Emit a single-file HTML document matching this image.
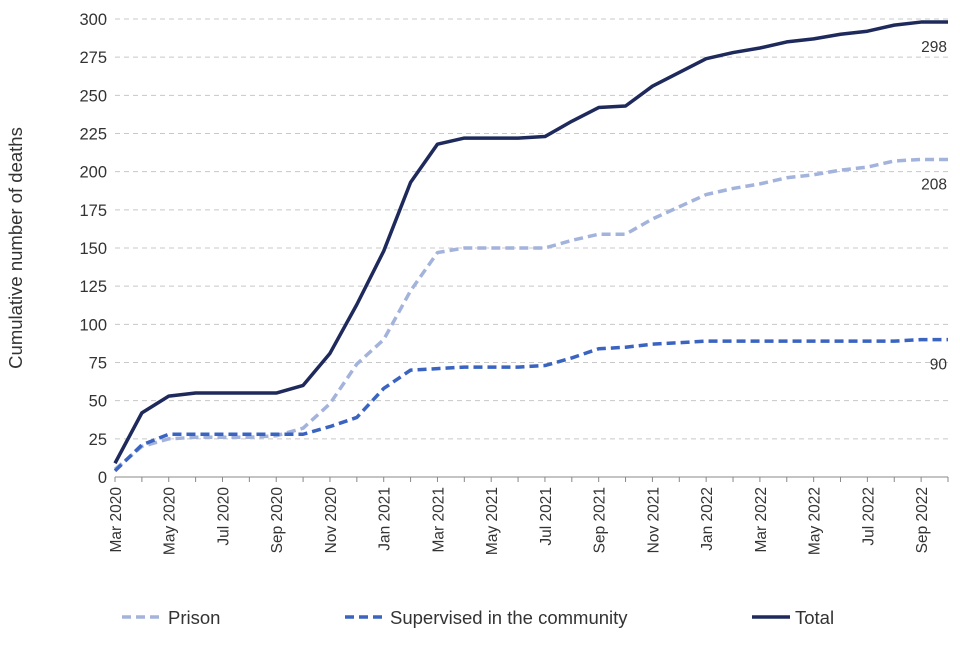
<!DOCTYPE html>
<html><head><meta charset="utf-8"><style>
body{margin:0;background:#fff;}
svg text{font-family:"Liberation Sans",Arial,sans-serif;fill:#333;}
</style></head><body>
<svg id="chart" width="960" height="640" viewBox="0 0 960 640" xmlns="http://www.w3.org/2000/svg">
<g id="grid"></g>
<g id="yaxis"></g>
<g id="xaxis"></g>
<g id="series"></g>
<text transform="translate(22,248) rotate(-90)" text-anchor="middle" font-size="18.5">Cumulative number of deaths</text>
<g>
<g><line x1="122" y1="617" x2="160" y2="617" stroke="#a3b3dc" stroke-width="3.5" stroke-dasharray="9,5"/><text x="168" y="624" font-size="18.5">Prison</text></g>
<g><line x1="345" y1="617" x2="383" y2="617" stroke="#3a64c0" stroke-width="3.5" stroke-dasharray="9,5"/><text x="390" y="624" font-size="18.5">Supervised in the community</text></g>
<g><line x1="752" y1="617" x2="790" y2="617" stroke="#1f2a5c" stroke-width="3.5"/><text x="795" y="624" font-size="18.5">Total</text></g>
</g>
</svg>
<script>
const months = ["Mar 2020","Apr 2020","May 2020","Jun 2020","Jul 2020","Aug 2020","Sep 2020","Oct 2020","Nov 2020","Dec 2020","Jan 2021","Feb 2021","Mar 2021","Apr 2021","May 2021","Jun 2021","Jul 2021","Aug 2021","Sep 2021","Oct 2021","Nov 2021","Dec 2021","Jan 2022","Feb 2022","Mar 2022","Apr 2022","May 2022","Jun 2022","Jul 2022","Aug 2022","Sep 2022","Oct 2022"];
const totalValues = [9,42,53,55,55,55,55,60,81,113,148,193,218,222,222,222,223,233,242,243,256,265,274,278,281,285,287,290,292,296,298,298];
const prisonValues = [5,20,25,26,26,26,27,32,48,74,90,122,147,150,150,150,150,155,159,159,169,177,185,189,192,196,198,201,203,207,208,208];
const communityValues = [4,21,28,28,28,28,28,28,33,39,58,70,71,72,72,72,73,78,84,85,87,88,89,89,89,89,89,89,89,89,90,90];
const yTicks = [0,25,50,75,100,125,150,175,200,225,250,275,300];
const xLabelIdx = [0,2,4,6,8,10,12,14,16,18,20,22,24,26,28,30];

const X0=115, X1=948, Y0=477, Y1=19;
const x = i => X0 + i*(X1-X0)/(months.length-1);
const y = v => Y0 - v*(Y0-Y1)/300;
const NS="http://www.w3.org/2000/svg";
function mk(tag, attrs, parent){const e=document.createElementNS(NS,tag);for(const k in attrs)e.setAttribute(k,attrs[k]);parent.appendChild(e);return e;}
const grid=document.getElementById('grid'), ya=document.getElementById('yaxis'), xa=document.getElementById('xaxis'), ser=document.getElementById('series');
yTicks.forEach(t=>{
  if(t>0){const l=mk('line',{x1:X0,x2:X1,y1:y(t),y2:y(t),stroke:'#c8c8c8','stroke-dasharray':'5,4','stroke-width':1},grid);
  
  }
  const tx=mk('text',{x:X0-8,y:y(t)+6,'text-anchor':'end','font-size':16.5},ya);tx.textContent=t;
  
  
});
const ax=mk('line',{x1:X0,x2:X1,y1:Y0,y2:Y0,stroke:'#888','stroke-width':1},xa);


months.forEach((m,i)=>{const tk=mk('line',{x1:x(i),x2:x(i),y1:Y0,y2:Y0+5,stroke:'#888'},xa);
  
  });
xLabelIdx.forEach(i=>{const tx=mk('text',{transform:`translate(${x(i)+6},${Y0+10}) rotate(-90)`,'text-anchor':'end','font-size':15.5},xa);
  tx.textContent=months[i];
  
  });
function line(vals,color,dash,name){
  const p=mk('polyline',{points:vals.map((v,i)=>x(i)+','+y(v)).join(' '),fill:'none',stroke:color,'stroke-width':3.5,'stroke-linejoin':'round'},ser);
  if(dash)p.setAttribute('stroke-dasharray',dash);
  
  
  const last=vals.length-1;
  const t=mk('text',{x:x(last)-1,y:y(vals[last])+30,'text-anchor':'end','font-size':15.5},ser);t.textContent=vals[last];
  
  
}
line(prisonValues,'#a3b3dc','9,5','prison-line');
line(communityValues,'#3a64c0','9,5','community-line');
line(totalValues,'#1f2a5c',null,'total-line');
</script>
</body></html>
